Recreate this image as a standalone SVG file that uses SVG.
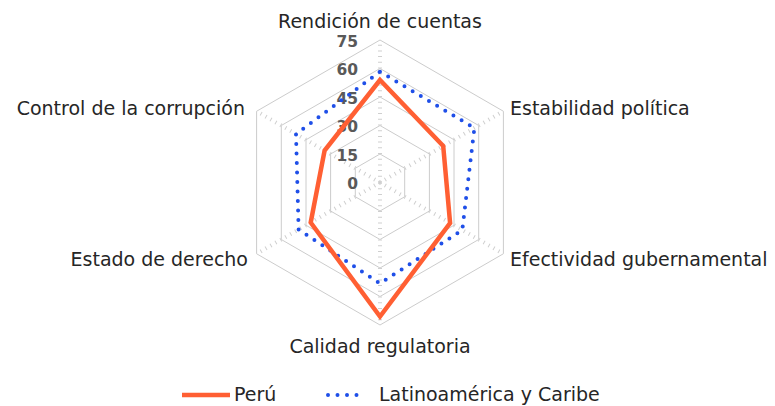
<svg xmlns="http://www.w3.org/2000/svg" width="775" height="406" viewBox="0 0 775 406">
<style>
.grid{fill:none;stroke:#cccccc;stroke-width:1}
.spoke{stroke:#cfcfcf;stroke-width:4;stroke-dasharray:1 4.7;fill:none}
.lbl{font-family:"DejaVu Sans",sans-serif;font-size:19px;fill:#262626}
.ax{font-family:"DejaVu Sans",sans-serif;font-size:15.5px;font-weight:bold;fill:#595959;text-anchor:end}
.peru{fill:none;stroke:#FF5F33;stroke-width:4.5;stroke-linejoin:miter}
.lac{fill:none;stroke:#1F4FE8;stroke-width:4;stroke-linecap:round;stroke-dasharray:0 9.5}
</style>
<rect width="775" height="406" fill="#ffffff"/>
<g id="grid">
<polygon class="grid" points="380,40 503.4,111.25 503.4,253.75 380,325 256.6,253.75 256.6,111.25"/>
<polygon class="grid" points="380,68.5 478.7,125.5 478.7,239.5 380,296.5 281.3,239.5 281.3,125.5"/>
<polygon class="grid" points="380,97 454,139.75 454,225.25 380,268 306,225.25 306,139.75"/>
<polygon class="grid" points="380,125.5 429.4,154 429.4,211 380,239.5 330.6,211 330.6,154"/>
<polygon class="grid" points="380,154 404.7,168.25 404.7,196.75 380,211 355.3,196.75 355.3,168.25"/>
<line class="spoke" x1="380" y1="182.5" x2="380" y2="40"/>
<line class="spoke" x1="380" y1="182.5" x2="503.4" y2="111.25"/>
<line class="spoke" x1="380" y1="182.5" x2="503.4" y2="253.75"/>
<line class="spoke" x1="380" y1="182.5" x2="380" y2="325"/>
<line class="spoke" x1="380" y1="182.5" x2="256.6" y2="253.75"/>
<line class="spoke" x1="380" y1="182.5" x2="256.6" y2="111.25"/>
</g>
<g id="axis-values">
<text class="ax" x="358" y="46.5">75</text>
<text class="ax" x="358" y="75">60</text>
<text class="ax" x="358" y="103.5">45</text>
<text class="ax" x="358" y="132">30</text>
<text class="ax" x="358" y="160.5">15</text>
<text class="ax" x="358" y="189">0</text>
</g>
<g id="connectors">
<polygon id="series-lac" class="lac" points="380,71.7 474.4,128 462.3,230 380,283.5 298.6,229.5 296,134"/>
<polygon id="series-peru" class="peru" points="380,80 443.2,146 450.1,223 380,316.5 310.7,222.5 324.6,150.5"/>
</g>
<g id="axis-labels">
<text id="n-rendicion" class="lbl" x="380" y="28" text-anchor="middle">Rendición de cuentas</text>
<text id="n-estabilidad" class="lbl" x="510" y="115">Estabilidad política</text>
<text id="n-efectividad" class="lbl" x="510" y="266">Efectividad gubernamental</text>
<text id="n-calidad" class="lbl" x="380" y="353" text-anchor="middle">Calidad regulatoria</text>
<text id="n-estado" class="lbl" x="248" y="266" text-anchor="end">Estado de derecho</text>
<text id="n-control" class="lbl" x="245" y="115" text-anchor="end">Control de la corrupción</text>
</g>
<g id="legend">
<line class="peru" x1="182" y1="395" x2="230" y2="395"/>
<text class="lbl" x="234" y="401">Perú</text>
<line class="lac" x1="328" y1="395" x2="366" y2="395"/>
<text class="lbl" x="379" y="401">Latinoamérica y Caribe</text>
</g>
</svg>
